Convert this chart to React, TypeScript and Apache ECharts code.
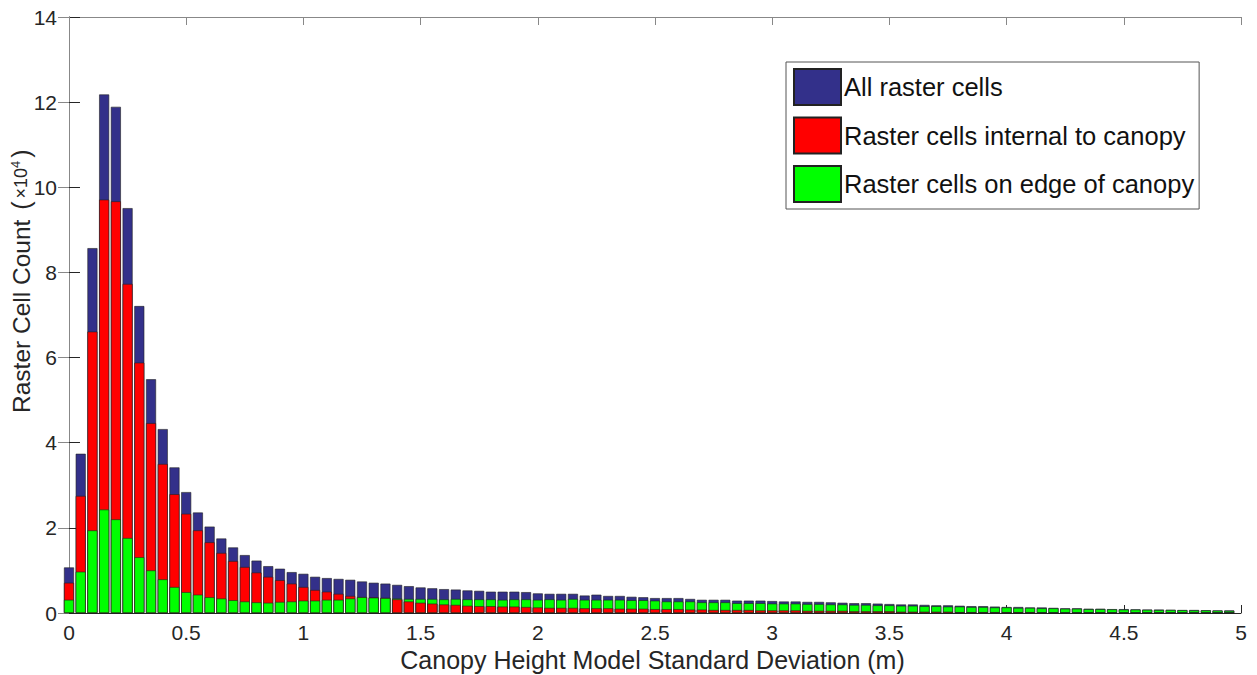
import React, { useEffect, useRef } from "react";
import * as echarts from "echarts";

// Bin centres (m), histogram bin width 0.05 m
const binCenters: number[] = Array.from({ length: 100 }, (_, k) => +(k * 0.05).toFixed(2));

// Counts in units of 10^4
const allCells: number[] = [
  1.07, 3.74, 8.57, 12.18, 11.89, 9.51, 7.21, 5.49, 4.32, 3.42,
  2.84, 2.36, 2.03, 1.75, 1.54, 1.36, 1.23, 1.1, 1.04, 0.96,
  0.92, 0.85, 0.82, 0.8, 0.78, 0.74, 0.71, 0.69, 0.66, 0.63,
  0.6, 0.58, 0.56, 0.55, 0.53, 0.52,
  0.5, 0.5, 0.5, 0.49, 0.46, 0.45, 0.45, 0.45, 0.41, 0.43,
  0.4, 0.4, 0.38, 0.37, 0.35, 0.35, 0.35, 0.33, 0.31, 0.31,
  0.31, 0.29, 0.29, 0.29, 0.28,
  0.27, 0.27, 0.26, 0.26, 0.25, 0.24, 0.23, 0.23, 0.22, 0.21,
  0.2, 0.2, 0.19, 0.18, 0.18, 0.17, 0.16, 0.16, 0.15, 0.14,
  0.14, 0.13, 0.13, 0.12, 0.11, 0.11, 0.1, 0.1, 0.09, 0.09,
  0.085, 0.08, 0.08, 0.075, 0.07, 0.07, 0.065, 0.06, 0.06,
];

const internalCells: number[] = [
  0.71, 2.75, 6.61, 9.71, 9.67, 7.73, 5.88, 4.46, 3.5, 2.79,
  2.33, 1.94, 1.66, 1.41, 1.22, 1.08, 0.95, 0.85, 0.77, 0.69,
  0.61, 0.54, 0.5, 0.45, 0.4, 0.375, 0.365, 0.355, 0.32, 0.27,
  0.24, 0.22, 0.2, 0.19, 0.17, 0.16,
  0.16, 0.15, 0.15, 0.14, 0.13, 0.12, 0.12, 0.12, 0.11, 0.11,
  0.11, 0.1, 0.1, 0.1, 0.09, 0.09, 0.09, 0.08, 0.08, 0.07,
  0.07, 0.07, 0.07, 0.06, 0.06,
  0.06, 0.06, 0.05, 0.05, 0.05, 0.05, 0.04, 0.04, 0.04, 0.04,
  0.03, 0.03, 0.03, 0.03, 0.03, 0.02, 0.02, 0.02, 0.02, 0.02,
  0.02, 0.02, 0.01, 0.01, 0.01, 0.01, 0.01, 0.01, 0.01, 0.01,
  0.01, 0.01, 0.01, 0.01, 0.01, 0.01, 0.01, 0.01, 0.01,
];

const edgeCells: number[] = [
  0.31, 0.97, 1.94, 2.43, 2.2, 1.76, 1.31, 1.0, 0.79, 0.61,
  0.49, 0.43, 0.37, 0.34, 0.3, 0.27, 0.25, 0.24, 0.26, 0.27,
  0.29, 0.29, 0.31, 0.31, 0.34, 0.37, 0.36, 0.35, 0.34, 0.33,
  0.33, 0.33, 0.32, 0.33, 0.32, 0.32,
  0.32, 0.31, 0.32, 0.32, 0.31, 0.32, 0.31, 0.33, 0.31, 0.31,
  0.31, 0.31, 0.3, 0.3, 0.29, 0.27, 0.27, 0.27, 0.25, 0.25,
  0.25, 0.23, 0.23, 0.23, 0.22,
  0.22, 0.22, 0.21, 0.21, 0.2, 0.2, 0.19, 0.19, 0.18, 0.18,
  0.17, 0.17, 0.16, 0.16, 0.15, 0.15, 0.14, 0.14, 0.13, 0.13,
  0.12, 0.12, 0.11, 0.11, 0.1, 0.1, 0.09, 0.09, 0.085, 0.08,
  0.08, 0.075, 0.07, 0.07, 0.065, 0.06, 0.06, 0.055, 0.05,
];

const xTicks: number[] = [0, 0.5, 1, 1.5, 2, 2.5, 3, 3.5, 4, 4.5, 5];
const seriesNames: string[] = [
  "All raster cells",
  "Raster cells internal to canopy",
  "Raster cells on edge of canopy",
];
const yTitle = "{a|Raster Cell Count }{b|(}{c|×10}{d|4}{b|)}";
const xTitle = "Canopy Height Model Standard Deviation (m)";

const BLUE = "#33308A";
const RED = "#FF0000";
const GREEN = "#00FF00";
const EDGE = "#222222";
const AXIS = "#262626";
const FONT = "Liberation Sans, Arial, sans-serif";

export default function App() {
  const ref = useRef<HTMLDivElement>(null);

  useEffect(() => {
    if (!ref.current) return;
    const chart = echarts.init(ref.current, null, { renderer: "svg" });

    const pairs = (vals: number[]) => binCenters.map((x, i) => [x, vals[i]]);
    const redFront = binCenters.map((x, i) =>
      internalCells[i] < edgeCells[i] ? [x, internalCells[i]] : [x, "-"]
    );

    const barBase = {
      type: "bar" as const,
      barWidth: 10,
      barGap: "-100%",
      clip: false,
      xAxisIndex: 0,
      yAxisIndex: 0,
    };

    chart.setOption({
      animation: false,
      backgroundColor: "#ffffff",
      textStyle: { fontFamily: FONT },
      grid: { left: 64, right: 16, top: 17, bottom: 62, containLabel: false, outerBoundsMode: "none" },
      legend: {
        data: seriesNames,
        orient: "vertical",
        left: 786,
        top: 62,
        itemWidth: 47,
        itemHeight: 36,
        itemGap: 10.5,
        padding: [6, 5, 6, 7],
        borderColor: "#555555",
        borderWidth: 1,
        backgroundColor: "#ffffff",
        icon: "rect",
        textStyle: { fontSize: 25.5, color: "#111111", fontFamily: FONT, padding: [0, 0, 0, -2] },
      },
      graphic: [
        {
          type: "text",
          x: 21,
          y: 413,
          rotation: Math.PI / 2,
          style: {
            text: yTitle,
            align: "left",
            verticalAlign: "middle",
            fill: AXIS,
            fontFamily: FONT,
            rich: {
              a: { fontSize: 24.5, fill: AXIS, fontFamily: FONT },
              b: { fontSize: 25, fill: AXIS, fontFamily: FONT, padding: [0, 3, 0, 3] },
              c: { fontSize: 18, fill: AXIS, fontFamily: FONT },
              d: { fontSize: 13, fill: AXIS, fontFamily: FONT, verticalAlign: "top", padding: [0, 0, 12, 0] },
            },
          },
        },
      ],
      xAxis: [
        {
          type: "value",
          min: -0.0213,
          max: 5,
          position: "bottom",
          name: xTitle,
          nameLocation: "middle",
          nameGap: 34,
          nameTextStyle: { fontSize: 25, color: AXIS, fontFamily: FONT },
          axisLine: { show: true, onZero: false, lineStyle: { color: AXIS, width: 1 } },
          axisTick: { show: true, inside: true, length: 8, customValues: xTicks, lineStyle: { color: AXIS } },
          axisLabel: {
            show: true,
            customValues: xTicks,
            fontSize: 21,
            color: AXIS,
            margin: 9,
            fontFamily: FONT,
            formatter: (v: number) => String(v),
          },
          splitLine: { show: false },
        },
        {
          type: "value",
          min: -0.0213,
          max: 5,
          position: "top",
          axisLine: { show: true, onZero: false, lineStyle: { color: "#888888", width: 1 } },
          axisTick: { show: true, inside: true, length: 8, customValues: xTicks, lineStyle: { color: "#888888" } },
          axisLabel: { show: false },
          splitLine: { show: false },
        },
      ],
      yAxis: [
        {
          type: "value",
          min: 0,
          max: 14,
          interval: 2,
          position: "left",
          axisLine: { show: true, lineStyle: { color: AXIS, width: 1 } },
          axisTick: { show: true, inside: true, length: 11, lineStyle: { color: AXIS } },
          axisLabel: { fontSize: 21, color: AXIS, margin: 7, fontFamily: FONT },
          splitLine: { show: false },
        },
        {
          type: "value",
          min: 0,
          max: 14,
          interval: 2,
          position: "right",
          axisLine: { show: true, lineStyle: { color: "#888888", width: 1 } },
          axisTick: { show: true, inside: true, length: 11, lineStyle: { color: "#888888" } },
          axisLabel: { show: false },
          splitLine: { show: false },
        },
      ],
      series: [
        {
          ...barBase,
          name: seriesNames[0],
          data: pairs(allCells),
          itemStyle: { color: BLUE, borderColor: EDGE, borderWidth: 0.6 },
          z: 2,
        },
        {
          ...barBase,
          name: seriesNames[1],
          data: pairs(internalCells),
          itemStyle: { color: RED, borderColor: EDGE, borderWidth: 0.6 },
          z: 3,
        },
        {
          ...barBase,
          name: seriesNames[2],
          data: pairs(edgeCells),
          itemStyle: { color: GREEN, borderColor: EDGE, borderWidth: 0.6 },
          z: 4,
        },
        {
          ...barBase,
          name: "internal-front",
          data: redFront,
          itemStyle: { color: RED, borderColor: EDGE, borderWidth: 0.6 },
          z: 5,
        },
      ],
    });

    return () => chart.dispose();
  }, []);

  return <div ref={ref} style={{ width: 1257, height: 675, position: "absolute", left: 0, top: 0 }} />;
}
